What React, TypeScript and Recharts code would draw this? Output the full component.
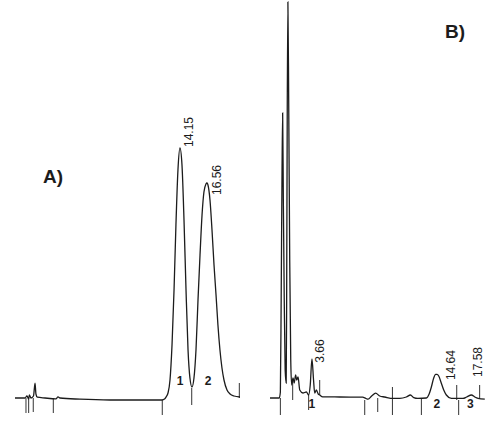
import React from 'react';
import { LineChart, Line, XAxis, YAxis, ReferenceLine, ReferenceDot } from 'recharts';

// ---- Panel A : retention time (min) and detector signal ----
const timeA = [-0.58, 0.31, 0.49, 0.64, 0.7, 0.85, 1.07, 1.21, 1.29, 1.41, 2.1, 3.08, 3.26, 3.44, 5.22, 7.9, 10.58, 12.54, 12.8, 12.9, 13.08, 13.26, 13.44, 13.62, 13.79, 13.97, 14.15, 14.33, 14.51, 14.69, 14.87, 15.04, 15.22, 15.4, 15.58, 15.76, 15.94, 16.12, 16.29, 16.47, 16.56, 16.65, 16.83, 17.01, 17.19, 17.37, 17.54, 17.72, 17.9, 18.08, 18.35, 18.62, 18.97, 19.51];
const signalA = [0, 0, 0.5, -0.25, 0.75, 0, 0.5, 3.7, 1, 0.2, 0, -0.2, 0.3, 0, -0.3, -0.5, -0.5, -0.5, -0.2, 0.2, 1.25, 4.5, 13.25, 27, 43.25, 57, 62.5, 58.25, 44.5, 27, 12, 5, 2.75, 5, 12, 24.5, 35.75, 45.75, 51.5, 53.5, 53.75, 53.25, 49.5, 42, 33.25, 25.75, 18.25, 12, 7.5, 4.5, 2, 1, 0.5, 0.25];
const tickTimesA = [0.4, 0.64, 1.05, 2.84, 12.57, 15.2, 19.45];
const tickTopA = [0, 0, 0, 0, -0.5, 2.5, 3.75];
const tickBottomA = [-3.75, -3.75, -3.5, -3.75, -4.25, -1.75, 0];
const peakTimesA = [14.15, 16.56];
const peakHeightsA = [62.5, 53.75];
const peakLabelsA = ['14.15', '16.56'];
const indexTimesA = [14.15, 16.65];
const indexLabelsA = ['1', '2'];

// ---- Panel B ----
const timeB = [0, 0.81, 0.91, 0.98, 1.05, 1.11, 1.17, 1.25, 1.33, 1.42, 1.46, 1.51, 1.57, 1.64, 1.73, 1.82, 1.9, 2.02, 2.12, 2.25, 2.34, 2.46, 2.61, 2.89, 3.19, 3.39, 3.53, 3.68, 3.82, 3.92, 4.07, 4.23, 4.36, 4.62, 6.11, 8.13, 8.4, 8.6, 8.92, 9.27, 9.62, 10.06, 10.79, 11.38, 11.96, 12.32, 12.61, 12.96, 13.72, 13.96, 14.16, 14.36, 14.53, 14.65, 14.8, 15.03, 15.24, 15.47, 15.91, 16.93, 17.25, 17.67, 17.96, 18.25, 18.84];
const signalB = [0, 0, 1.5, 24.5, 54.5, 71.25, 49.5, 24.5, 7, 3.75, 24.5, 69.5, 99, 74.5, 34.5, 9.5, 3.25, 5, 3.75, 5.75, 4.5, 5.25, 2, 1.25, 1.5, 0.75, 3.25, 9.75, 4.5, 1.25, 2, 1, 0.75, 0.3, 0.25, 0.2, -0.1, -0.3, 0.5, 1.2, 0.5, 0.25, -0.1, -0.1, 0.25, 0.75, 0.1, -0.1, 0, 1, 2.8, 5, 5.9, 5.9, 5.5, 3.7, 2, 0.75, -0.1, -0.1, 0.25, 0.75, 0.25, -0.1, -0.3];
const tickTimesB = [0.91, 1.99, 3.39, 4.36, 8.31, 9.45, 10.74, 13.28, 16.38, 16.55, 18.39];
const tickTopB = [0, 4.5, 0.75, 4.5, -0.5, 0, 2.75, 0, 3.25, -0.5, 3.25];
const tickBottomB = [-4.25, -0.5, -3, 0.75, -4.25, -3.5, -4.25, -4.25, -0.5, -4.25, 0];
const peakTimesB = [3.66, 14.64, 17.58];
const peakHeightsB = [9.75, 5.9, 0.75];
const peakLabelsB = ['3.66', '14.64', '17.58'];
const indexTimesB = [3.66, 14.64, 17.58];
const indexLabelsB = ['1', '2', '3'];

const dataA = timeA.map((t, i) => ({ t, v: signalA[i] }));
const dataB = timeB.map((t, i) => ({ t, v: signalB[i] }));

const FONT = '"Liberation Sans", Arial, Helvetica, sans-serif';
const INK = '#1c1c1c';
const Y_DOMAIN: [number, number] = [-10.5, 99.5];

const labelOffsetsA = [[13, -1], [14, 12]];
const labelOffsetsB = [[12.7, 3.7], [17.7, 5.7], [11.3, -18]];

function rotatedLabel(text: string, dx: number, dy: number) {
  return (p: any) => {
    const x = p.cx + dx;
    const y = p.cy + dy;
    return (
      <text x={x} y={y} transform={`rotate(-90 ${x} ${y})`} fontSize={12} fontFamily={FONT} fill={INK}>
        {text}
      </text>
    );
  };
}

function indexLabel(text: string, dy: number) {
  return (p: any) => (
    <text x={p.cx} y={p.cy + dy} textAnchor="middle" fontSize={12} fontWeight="bold" fontFamily={FONT} fill={INK}>
      {text}
    </text>
  );
}

function Panel(props: {
  data: { t: number; v: number }[];
  domain: [number, number];
  width: number;
  left: number;
  ticks: number[];
  tops: number[];
  bottoms: number[];
  peakTimes: number[];
  peakHeights: number[];
  peakLabels: string[];
  offsets: number[][];
  indexTimes: number[];
  indexLabels: string[];
  indexDy: number;
}) {
  return (
    <div style={{ position: 'absolute', left: props.left, top: 0 }}>
      <LineChart width={props.width} height={440} data={props.data} margin={{ top: 0, right: 0, bottom: 0, left: 0 }}>
        <XAxis dataKey="t" type="number" domain={props.domain} allowDataOverflow hide />
        <YAxis type="number" domain={Y_DOMAIN} allowDataOverflow hide />
        {props.ticks.map((t, i) => (
          <ReferenceLine
            key={'tk' + i}
            segment={[{ x: t, y: props.tops[i] }, { x: t, y: props.bottoms[i] }]}
            stroke="#333"
            strokeWidth={1}
          />
        ))}
        <Line
          dataKey="v"
          type="monotone"
          stroke={INK}
          strokeWidth={1.3}
          dot={false}
          isAnimationActive={false}
        />
        {props.peakTimes.map((t, i) => (
          <ReferenceDot
            key={'pl' + i}
            x={t}
            y={props.peakHeights[i]}
            r={0}
            shape={rotatedLabel(props.peakLabels[i], props.offsets[i][0], props.offsets[i][1])}
          />
        ))}
        {props.indexTimes.map((t, i) => (
          <ReferenceDot
            key={'ix' + i}
            x={t}
            y={0}
            r={0}
            shape={indexLabel(props.indexLabels[i], props.indexDy)}
          />
        ))}
      </LineChart>
    </div>
  );
}

export default function App() {
  return (
    <div style={{ position: 'absolute', left: 0, top: 0, width: 500, height: 440, background: '#fff', overflow: 'hidden' }}>
      <Panel
        data={dataA}
        domain={[-0.58, 19.51]}
        width={225}
        left={15}
        ticks={tickTimesA}
        tops={tickTopA}
        bottoms={tickBottomA}
        peakTimes={peakTimesA}
        peakHeights={peakHeightsA}
        peakLabels={peakLabelsA}
        offsets={labelOffsetsA}
        indexTimes={indexTimesA}
        indexLabels={indexLabelsA}
        indexDy={-13}
      />
      <Panel
        data={dataB}
        domain={[0, 18.86]}
        width={215}
        left={270}
        ticks={tickTimesB}
        tops={tickTopB}
        bottoms={tickBottomB}
        peakTimes={peakTimesB}
        peakHeights={peakHeightsB}
        peakLabels={peakLabelsB}
        offsets={labelOffsetsB}
        indexTimes={indexTimesB}
        indexLabels={indexLabelsB}
        indexDy={10}
      />
      <svg width={500} height={440} style={{ position: 'absolute', left: 0, top: 0, pointerEvents: 'none' }}>
        <text x={43} y={183} fontSize={19} fontWeight="bold" fontFamily={FONT} fill={INK}>A)</text>
        <text x={445} y={38} fontSize={19} fontWeight="bold" fontFamily={FONT} fill={INK}>B)</text>
      </svg>
    </div>
  );
}
